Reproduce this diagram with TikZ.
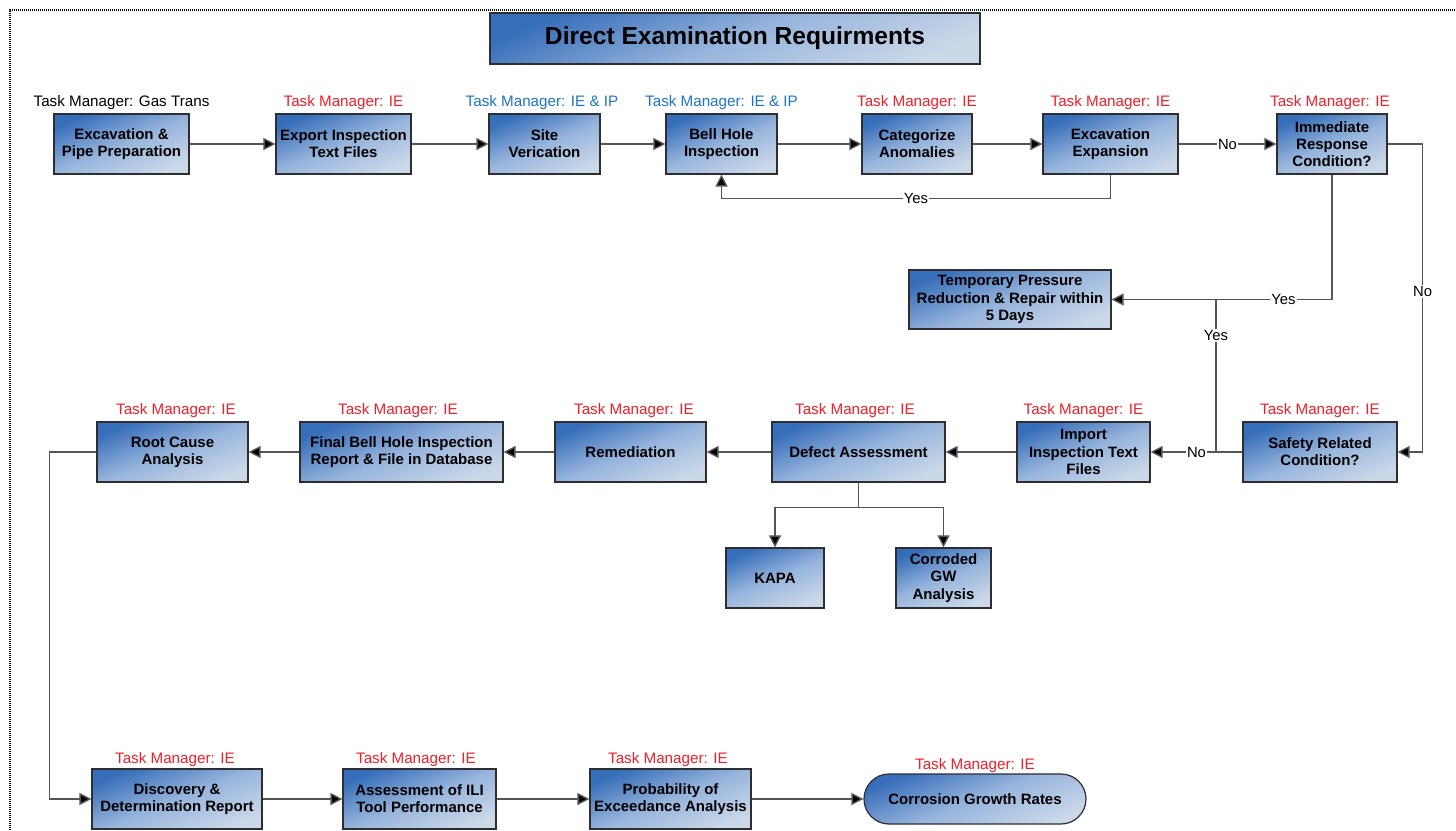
\documentclass[tikz,border=0pt]{standalone}
\usepackage{fontspec}
\setmainfont{Liberation Sans}
\usetikzlibrary{arrows.meta}
\definecolor{boxdark}{RGB}{55,110,185}
\definecolor{boxmid}{RGB}{150,180,220}
\definecolor{boxlight}{RGB}{202,216,232}
\definecolor{boxline}{RGB}{45,45,50}
\definecolor{mgrred}{RGB}{240,30,40}
\definecolor{mgrblue}{RGB}{30,115,200}
\definecolor{wire}{RGB}{85,85,85}
\tikzset{
  box/.style={draw=boxline, line width=0.6pt, top color=boxdark, bottom color=boxlight,
    middle color=boxmid, shading angle=22, minimum height=30pt, inner sep=1pt,
    align=center, font=\bfseries\fontsize{7.5}{8.6}\selectfont},
  mgr/.style={anchor=base, inner sep=0pt, font=\fontsize{7.6}{9}\selectfont},
  flow/.style={draw=wire, line width=0.7pt, -{Triangle[length=6pt, width=6pt, fill=black]}},
  line/.style={draw=wire, line width=0.7pt},
  lbl/.style={fill=white, inner sep=0.6pt, font=\fontsize{7.4}{8.6}\selectfont}
}
\begin{document}
\begin{tikzpicture}[x=0.5pt, y=-0.5pt]
\useasboundingbox (0,0) rectangle (1456,830);
\draw [black, line width=0.8pt, dash pattern=on 0.6pt off 0.4pt] (10,830) -- (10,10) -- (1456,10);

\node (title) at (735,38.5) [box, minimum width=245pt, minimum height=25.5pt, font=\bfseries\fontsize{12.3}{14}\selectfont] {Direct Examination Requirments};

% top row
\node (exc) at (121.5,144) [box, minimum width=67.5pt] {Excavation \&\\Pipe Preparation};
\node (export) at (343.5,144) [box, minimum width=67.5pt] {Export Inspection\\Text Files};
\node (site) at (544.5,144) [box, minimum width=55.5pt] {Site\\Verication};
\node (bell) at (721.5,144) [box, minimum width=55.5pt] {Bell Hole\\Inspection};
\node (cat) at (917,144) [box, minimum width=55pt] {Categorize\\Anomalies};
\node (excexp) at (1110.5,144) [box, minimum width=67.5pt] {Excavation\\Expansion};
\node (imm) at (1332,144) [box, minimum width=55pt] {Immediate\\Response\\Condition?};

\node (excM) at (121.5,106) [mgr] {Task Manager: Gas Trans};
\node (exportM) at (343.5,106) [mgr, mgrred] {Task Manager: IE};
\node (siteM) at (542,106) [mgr, mgrblue] {Task Manager: IE \& IP};
\node (bellM) at (721.5,106) [mgr, mgrblue] {Task Manager: IE \& IP};
\node (catM) at (917,106) [mgr, mgrred] {Task Manager: IE};
\node (excexpM) at (1110.5,106) [mgr, mgrred] {Task Manager: IE};
\node (immM) at (1330,106) [mgr, mgrred] {Task Manager: IE};

\node (temp) at (1010,299.5) [box, minimum width=101pt, minimum height=29.5pt] {Temporary Pressure\\Reduction \& Repair within\\5 Days};

% middle row
\node (safety) at (1320,452) [box, minimum width=77pt] {Safety Related\\Condition?};
\node (import) at (1083.5,452) [box, minimum width=66.5pt] {Import\\Inspection Text\\Files};
\node (defect) at (858.5,452) [box, minimum width=86.5pt] {Defect Assessment};
\node (remed) at (630.5,452) [box, minimum width=75.5pt] {Remediation};
\node (final) at (401.5,452) [box, minimum width=101.5pt] {Final Bell Hole Inspection\\Report \& File in Database};
\node (root) at (172.5,452) [box, minimum width=75.5pt] {Root Cause\\Analysis};

\node (safetyM) at (1320,414) [mgr, mgrred] {Task Manager: IE};
\node (importM) at (1083.5,414) [mgr, mgrred] {Task Manager: IE};
\node (defectM) at (855,414) [mgr, mgrred] {Task Manager: IE};
\node (remedM) at (634,414) [mgr, mgrred] {Task Manager: IE};
\node (finalM) at (398,414) [mgr, mgrred] {Task Manager: IE};
\node (rootM) at (176,414) [mgr, mgrred] {Task Manager: IE};

\node (kapa) at (775,578) [box, minimum width=49pt] {KAPA};
\node (corr) at (943.5,578) [box, minimum width=47.5pt] {Corroded\\GW\\Analysis};

% bottom row
\node (disc) at (177,799) [box, minimum width=85pt] {Discovery \&\\Determination Report};
\node (assess) at (419.5,799) [box, minimum width=76.5pt] {Assessment of ILI\\Tool Performance};
\node (prob) at (670.5,799) [box, minimum width=80.5pt] {Probability of\\Exceedance Analysis};
\node (cgr) at (975,799) [box, minimum width=111pt, minimum height=25pt, rounded corners=12.5pt] {Corrosion Growth Rates};

\node (discM) at (175,763) [mgr, mgrred] {Task Manager: IE};
\node (assessM) at (416,763) [mgr, mgrred] {Task Manager: IE};
\node (probM) at (668,763) [mgr, mgrred] {Task Manager: IE};
\node (cgrM) at (975,769) [mgr, mgrred] {Task Manager: IE};

\coordinate (join) at (1216,299);

\draw [flow] (exc) -- (export);
\draw [flow] (export) -- (site);
\draw [flow] (site) -- (bell);
\draw [flow] (bell) -- (cat);
\draw [flow] (cat) -- (excexp);
\draw [flow] (excexp) -- (imm) node[lbl, midway] {No};
\draw [flow] (excexp.south) -- ++(0,24) -| (bell.south) node[lbl, pos=0.25] {Yes};
\draw [flow] (imm.south) |- (temp.east) node[lbl, pos=0.61] {Yes};
\draw [flow] (imm.east) -- ++(35,0) |- (safety.east) node[lbl, pos=0.24] {No};
\draw [line] (safety.west) -| (join) node[lbl, pos=0.88] {Yes};
\draw [flow] (safety) -- (import) node[lbl, midway] {No};
\draw [flow] (import) -- (defect);
\draw [flow] (defect) -- (remed);
\draw [flow] (remed) -- (final);
\draw [flow] (final) -- (root);
\draw [flow] (defect.south) -- ++(0,25) -| (kapa.north);
\draw [flow] (defect.south) -- ++(0,25) -| (corr.north);
\draw [flow] (root.west) -- ++(-47,0) |- (disc.west);
\draw [flow] (disc) -- (assess);
\draw [flow] (assess) -- (prob);
\draw [flow] (prob) -- (cgr);
\end{tikzpicture}
\end{document}
